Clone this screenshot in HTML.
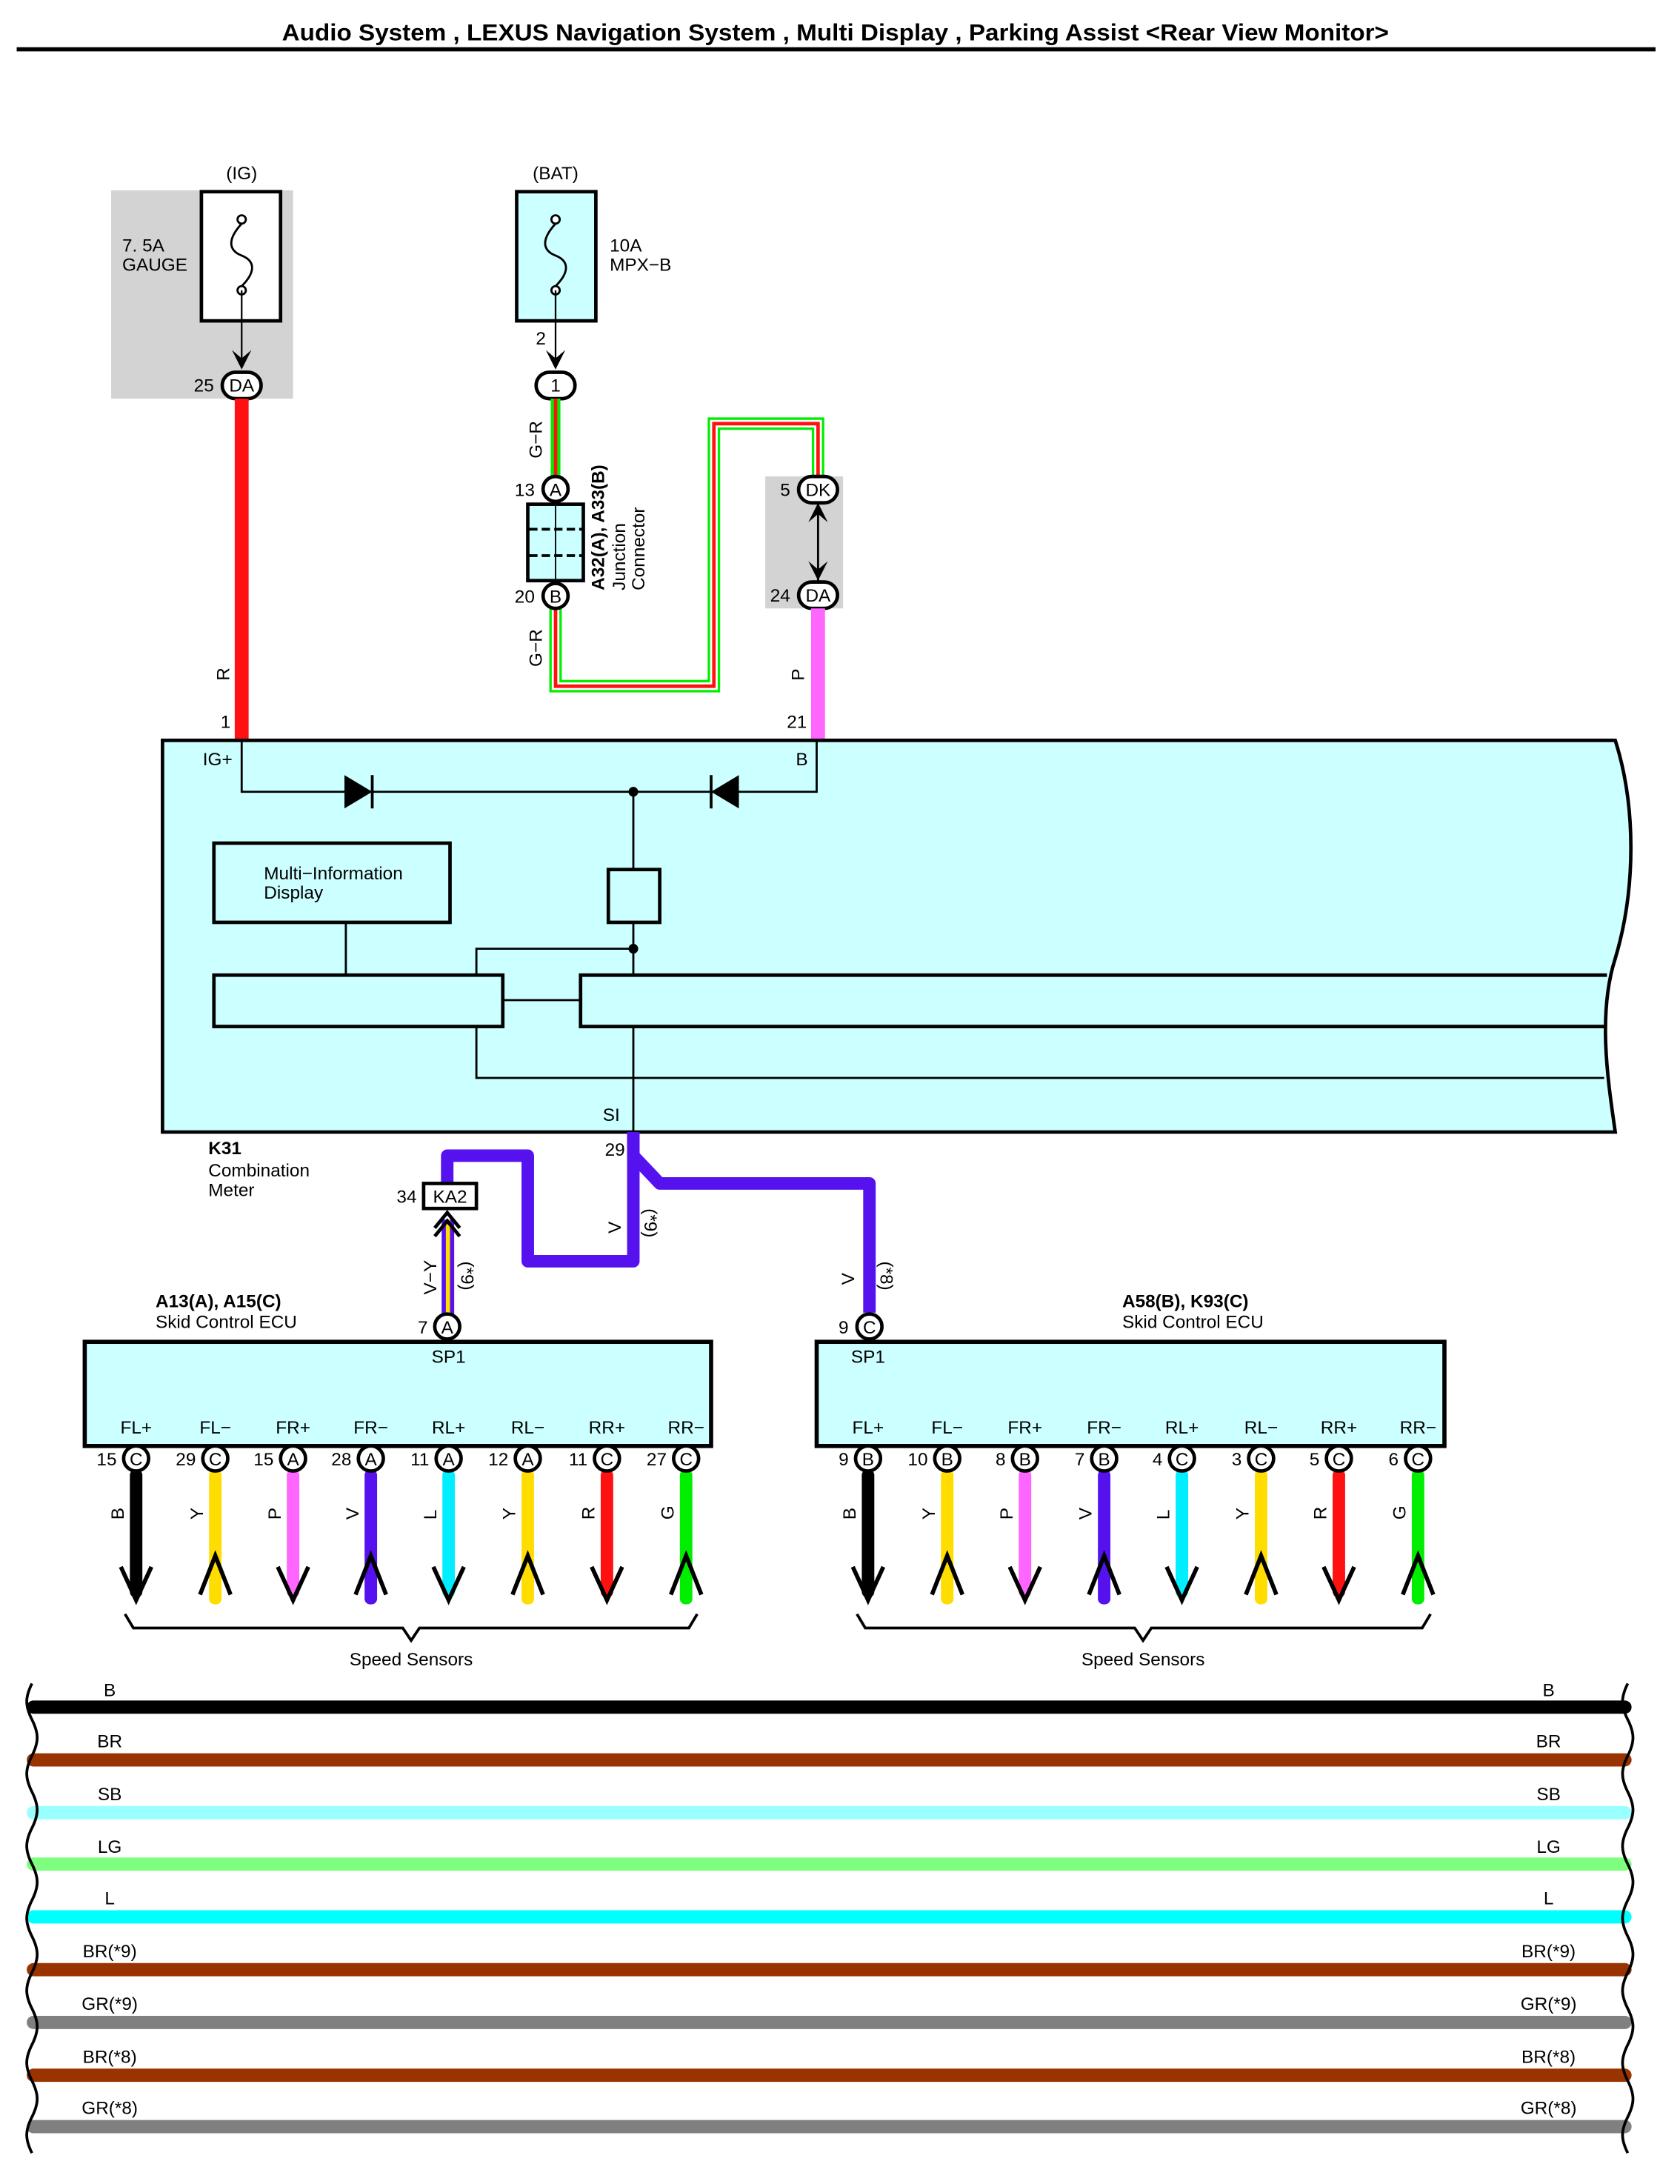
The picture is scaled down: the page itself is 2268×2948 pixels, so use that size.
<!DOCTYPE html>
<html><head><meta charset="utf-8"><style>
html,body{margin:0;padding:0;background:#fff}
svg{display:block}
text{font-family:"Liberation Sans",sans-serif;font-size:13px;fill:#000}
</style></head><body>
<svg width="2268" height="2948" viewBox="0 0 1209.6 1572.3" xmlns="http://www.w3.org/2000/svg">
<rect width="1209.6" height="1572.3" fill="#fff"/>
<text x="203" y="29" textLength="797" lengthAdjust="spacingAndGlyphs" style="font-size:17px;font-weight:bold">Audio System , LEXUS Navigation System , Multi Display , Parking Assist &lt;Rear View Monitor&gt;</text>
<rect x="12" y="34" width="1180" height="3" fill="#000"/>

<rect x="80" y="137" width="131" height="150" fill="#d3d3d3"/>
<rect x="145" y="138" width="57" height="93" fill="#fff" stroke="#000" stroke-width="2.5"/>
<text x="174" y="129" text-anchor="middle">(IG)</text>
<text x="88" y="181">7. 5A</text><text x="88" y="195">GAUGE</text>
<circle cx="174" cy="158" r="3" fill="#fff" stroke="#000" stroke-width="1.5"/>
<circle cx="174" cy="209" r="3" fill="#fff" stroke="#000" stroke-width="1.5"/>
<path d="M174 161 C164 172,164 180,174 184 C184 188,184 196,174 206" fill="none" stroke="#000" stroke-width="1.5"/>
<line x1="174" y1="209" x2="174" y2="262" stroke="#000" stroke-width="1.2"/>
<path d="M167 252 L174 266 L181 252 L174 258 Z" fill="#000"/>
<rect x="160" y="268" width="28" height="19" rx="9.5" fill="#fff" stroke="#000" stroke-width="2.5"/>
<text x="174" y="282" text-anchor="middle">DA</text>
<text x="154" y="282" text-anchor="end">25</text>
<rect x="169" y="287" width="10" height="246" fill="#ff1111"/>
<text x="0" y="0" transform="translate(165,490) rotate(-90)">R</text>
<text x="166" y="524" text-anchor="end">1</text>

<rect x="372" y="138" width="57" height="93" fill="#ccffff" stroke="#000" stroke-width="2.5"/>
<text x="400" y="129" text-anchor="middle">(BAT)</text>
<text x="439" y="181">10A</text><text x="439" y="195">MPX−B</text>
<circle cx="400" cy="158" r="3" fill="#fff" stroke="#000" stroke-width="1.5"/>
<circle cx="400" cy="209" r="3" fill="#fff" stroke="#000" stroke-width="1.5"/>
<path d="M400 161 C390 172,390 180,400 184 C410 188,410 196,400 206" fill="none" stroke="#000" stroke-width="1.5"/>
<line x1="400" y1="209" x2="400" y2="262" stroke="#000" stroke-width="1.2"/>
<path d="M393 252 L400 266 L407 252 L400 258 Z" fill="#000"/>
<text x="393" y="248" text-anchor="end">2</text>
<rect x="386" y="268" width="28" height="19" rx="9.5" fill="#fff" stroke="#000" stroke-width="2.5"/>
<text x="400" y="282" text-anchor="middle">1</text>

<g fill="none" stroke-linejoin="miter">
<path d="M400 287 L400 343" stroke="#00ee00" stroke-width="7"/>
<path d="M400 287 L400 343" stroke="#ff1111" stroke-width="2.5"/>
<path d="M400 438 L400 494 L514 494 L514 305 L589 305 L589 343" stroke="#00ee00" stroke-width="9"/>
<path d="M400 438 L400 494 L514 494 L514 305 L589 305 L589 343" stroke="#fff" stroke-width="5.5"/>
<path d="M400 438 L400 494 L514 494 L514 305 L589 305 L589 343" stroke="#ff1111" stroke-width="2.5"/>
</g>
<text transform="translate(390,330) rotate(-90)">G−R</text>
<text transform="translate(390,480) rotate(-90)">G−R</text>
<circle cx="400" cy="352" r="9" fill="#fff" stroke="#000" stroke-width="2.5"/>
<text x="400" y="357" text-anchor="middle">A</text><text x="385" y="357" text-anchor="end">13</text>
<rect x="380" y="363" width="40" height="55" fill="#ccffff" stroke="#000" stroke-width="2.5"/>
<line x1="400" y1="363" x2="400" y2="418" stroke="#000" stroke-width="1"/>
<line x1="381" y1="381" x2="419" y2="381" stroke="#000" stroke-width="2" stroke-dasharray="6,3"/>
<line x1="381" y1="400" x2="419" y2="400" stroke="#000" stroke-width="2" stroke-dasharray="6,3"/>
<circle cx="400" cy="429" r="9" fill="#fff" stroke="#000" stroke-width="2.5"/>
<text x="400" y="434" text-anchor="middle">B</text><text x="385" y="434" text-anchor="end">20</text>
<text transform="translate(435,425) rotate(-90)" style="font-weight:bold">A32(A), A33(B)</text>
<text transform="translate(450,425) rotate(-90)">Junction</text>
<text transform="translate(464,425) rotate(-90)">Connector</text>

<rect x="551" y="343" width="56" height="95" fill="#d3d3d3"/>
<line x1="589" y1="362" x2="589" y2="418" stroke="#000" stroke-width="1.5"/>
<path d="M582 376 L589 362 L596 376 L589 370Z M582 404 L589 418 L596 404 L589 410Z" fill="#000"/>
<rect x="575" y="343" width="28" height="19" rx="9.5" fill="#fff" stroke="#000" stroke-width="2.5"/>
<text x="589" y="357" text-anchor="middle">DK</text><text x="569" y="357" text-anchor="end">5</text>
<rect x="575" y="419" width="28" height="19" rx="9.5" fill="#fff" stroke="#000" stroke-width="2.5"/>
<text x="589" y="433" text-anchor="middle">DA</text><text x="569" y="433" text-anchor="end">24</text>
<rect x="584" y="438" width="10" height="95" fill="#ff66ff"/>
<text transform="translate(579,490) rotate(-90)">P</text>
<text x="581" y="524" text-anchor="end">21</text>

<path d="M117 533 L1163 533 C1178 580,1178 640,1163 690 C1150 730,1158 780,1163 815 L117 815 Z" fill="#ccffff" stroke="#000" stroke-width="2.5"/>
<text x="146" y="551">IG+</text><text x="573" y="551">B</text>
<g fill="none" stroke="#000" stroke-width="1.5">
<path d="M174 533 L174 570 L588 570 L588 533"/>
<path d="M456 570 L456 626 M456 664 L456 702 M343 702 L343 683 L456 683 M249 664 L249 702 M362 720 L418 720 M456 739 L456 815 M343 739 L343 776 L1155 776"/>
</g>
<path d="M248 558 L268 570 L248 582 Z" fill="#000"/><line x1="268" y1="558" x2="268" y2="582" stroke="#000" stroke-width="2"/>
<path d="M532 558 L512 570 L532 582 Z" fill="#000"/><line x1="512" y1="558" x2="512" y2="582" stroke="#000" stroke-width="2"/>
<circle cx="456" cy="570" r="3.5" fill="#000"/><circle cx="456" cy="683" r="3.5" fill="#000"/>
<rect x="438" y="626" width="37" height="38" fill="none" stroke="#000" stroke-width="2.5"/>
<rect x="154" y="607" width="170" height="57" fill="none" stroke="#000" stroke-width="2.5"/>
<text x="190" y="633">Multi−Information</text><text x="190" y="647">Display</text>
<rect x="154" y="702" width="208" height="37" fill="none" stroke="#000" stroke-width="2.5"/>
<path d="M1157 702 L418 702 L418 739 L1155 739" fill="none" stroke="#000" stroke-width="2.5"/>
<text x="434" y="807">SI</text>
<text x="450" y="832" text-anchor="end">29</text>
<text x="150" y="831" style="font-weight:bold">K31</text>
<text x="150" y="847">Combination</text><text x="150" y="861">Meter</text>

<path d="M456 815 L456 908 L380 908 L380 832 L322 832 L322 852" fill="none" stroke="#5511ee" stroke-width="9" stroke-linejoin="round"/>
<path d="M456 815 L456 832 L475 852 L626 852 L626 945" fill="none" stroke="#5511ee" stroke-width="9" stroke-linejoin="round"/>
<text transform="translate(447,888) rotate(-90)">V</text>
<text transform="translate(464,870) rotate(90)">(*9)</text>
<text transform="translate(615,925) rotate(-90)">V</text>
<text transform="translate(634,908) rotate(90)">(*8)</text>
<rect x="305" y="852" width="38" height="18" fill="#fff" stroke="#000" stroke-width="2.5"/>
<text x="324" y="866" text-anchor="middle">KA2</text><text x="300" y="866" text-anchor="end">34</text>
<rect x="318" y="878" width="9" height="68" fill="#5511ee"/>
<rect x="321" y="878" width="3" height="68" fill="#ffdd00"/>
<polyline points="313,890 322,879 331,890" fill="none" stroke="#000" stroke-width="2.5"/>
<polyline points="313,884 322,873 331,884" fill="none" stroke="#000" stroke-width="2.5"/>
<text transform="translate(314,932) rotate(-90)">V−Y</text>
<text transform="translate(332,908) rotate(90)">(*9)</text>
<circle cx="322" cy="955" r="9" fill="#fff" stroke="#000" stroke-width="2.5"/>
<text x="322" y="960" text-anchor="middle">A</text><text x="308" y="960" text-anchor="end">7</text>
<circle cx="626" cy="955" r="9" fill="#fff" stroke="#000" stroke-width="2.5"/>
<text x="626" y="960" text-anchor="middle">C</text><text x="611" y="960" text-anchor="end">9</text>

<text x="112" y="941" style="font-weight:bold">A13(A), A15(C)</text><text x="112" y="956">Skid Control ECU</text>
<rect x="61" y="966" width="451" height="75" fill="#ccffff" stroke="#000" stroke-width="3"/>
<text x="323" y="981" text-anchor="middle">SP1</text>
<text x="808" y="941" style="font-weight:bold">A58(B), K93(C)</text><text x="808" y="956">Skid Control ECU</text>
<rect x="588" y="966" width="452" height="75" fill="#ccffff" stroke="#000" stroke-width="3"/>
<text x="625" y="981" text-anchor="middle">SP1</text>

<g>
<g transform="translate(98,0)"><text x="0" y="1032" text-anchor="middle">FL+</text><rect x="-4.5" y="1058" width="9" height="92" rx="4" fill="#000"/><polyline points="-11,1128 0,1152 11,1128" fill="none" stroke="#000" stroke-width="3"/><circle cy="1050" r="9" fill="#fff" stroke="#000" stroke-width="2.5"/><text y="1055" text-anchor="middle">C</text><text x="-14" y="1055" text-anchor="end">15</text><text transform="translate(-9,1094) rotate(-90)">B</text></g>
<g transform="translate(155,0)"><text x="0" y="1032" text-anchor="middle">FL−</text><rect x="-4.5" y="1058" width="9" height="97" rx="4" fill="#ffdd00"/><polyline points="-11,1148 0,1120 11,1148" fill="none" stroke="#000" stroke-width="3"/><circle cy="1050" r="9" fill="#fff" stroke="#000" stroke-width="2.5"/><text y="1055" text-anchor="middle">C</text><text x="-14" y="1055" text-anchor="end">29</text><text transform="translate(-9,1094) rotate(-90)">Y</text></g>
<g transform="translate(211,0)"><text x="0" y="1032" text-anchor="middle">FR+</text><rect x="-4.5" y="1058" width="9" height="92" rx="4" fill="#ff66ff"/><polyline points="-11,1128 0,1152 11,1128" fill="none" stroke="#000" stroke-width="3"/><circle cy="1050" r="9" fill="#fff" stroke="#000" stroke-width="2.5"/><text y="1055" text-anchor="middle">A</text><text x="-14" y="1055" text-anchor="end">15</text><text transform="translate(-9,1094) rotate(-90)">P</text></g>
<g transform="translate(267,0)"><text x="0" y="1032" text-anchor="middle">FR−</text><rect x="-4.5" y="1058" width="9" height="97" rx="4" fill="#5511ee"/><polyline points="-11,1148 0,1120 11,1148" fill="none" stroke="#000" stroke-width="3"/><circle cy="1050" r="9" fill="#fff" stroke="#000" stroke-width="2.5"/><text y="1055" text-anchor="middle">A</text><text x="-14" y="1055" text-anchor="end">28</text><text transform="translate(-9,1094) rotate(-90)">V</text></g>
<g transform="translate(323,0)"><text x="0" y="1032" text-anchor="middle">RL+</text><rect x="-4.5" y="1058" width="9" height="92" rx="4" fill="#00eeff"/><polyline points="-11,1128 0,1152 11,1128" fill="none" stroke="#000" stroke-width="3"/><circle cy="1050" r="9" fill="#fff" stroke="#000" stroke-width="2.5"/><text y="1055" text-anchor="middle">A</text><text x="-14" y="1055" text-anchor="end">11</text><text transform="translate(-9,1094) rotate(-90)">L</text></g>
<g transform="translate(380,0)"><text x="0" y="1032" text-anchor="middle">RL−</text><rect x="-4.5" y="1058" width="9" height="97" rx="4" fill="#ffdd00"/><polyline points="-11,1148 0,1120 11,1148" fill="none" stroke="#000" stroke-width="3"/><circle cy="1050" r="9" fill="#fff" stroke="#000" stroke-width="2.5"/><text y="1055" text-anchor="middle">A</text><text x="-14" y="1055" text-anchor="end">12</text><text transform="translate(-9,1094) rotate(-90)">Y</text></g>
<g transform="translate(437,0)"><text x="0" y="1032" text-anchor="middle">RR+</text><rect x="-4.5" y="1058" width="9" height="92" rx="4" fill="#ff1111"/><polyline points="-11,1128 0,1152 11,1128" fill="none" stroke="#000" stroke-width="3"/><circle cy="1050" r="9" fill="#fff" stroke="#000" stroke-width="2.5"/><text y="1055" text-anchor="middle">C</text><text x="-14" y="1055" text-anchor="end">11</text><text transform="translate(-9,1094) rotate(-90)">R</text></g>
<g transform="translate(494,0)"><text x="0" y="1032" text-anchor="middle">RR−</text><rect x="-4.5" y="1058" width="9" height="97" rx="4" fill="#00ee00"/><polyline points="-11,1148 0,1120 11,1148" fill="none" stroke="#000" stroke-width="3"/><circle cy="1050" r="9" fill="#fff" stroke="#000" stroke-width="2.5"/><text y="1055" text-anchor="middle">C</text><text x="-14" y="1055" text-anchor="end">27</text><text transform="translate(-9,1094) rotate(-90)">G</text></g>
<g transform="translate(625,0)"><text x="0" y="1032" text-anchor="middle">FL+</text><rect x="-4.5" y="1058" width="9" height="92" rx="4" fill="#000"/><polyline points="-11,1128 0,1152 11,1128" fill="none" stroke="#000" stroke-width="3"/><circle cy="1050" r="9" fill="#fff" stroke="#000" stroke-width="2.5"/><text y="1055" text-anchor="middle">B</text><text x="-14" y="1055" text-anchor="end">9</text><text transform="translate(-9,1094) rotate(-90)">B</text></g>
<g transform="translate(682,0)"><text x="0" y="1032" text-anchor="middle">FL−</text><rect x="-4.5" y="1058" width="9" height="97" rx="4" fill="#ffdd00"/><polyline points="-11,1148 0,1120 11,1148" fill="none" stroke="#000" stroke-width="3"/><circle cy="1050" r="9" fill="#fff" stroke="#000" stroke-width="2.5"/><text y="1055" text-anchor="middle">B</text><text x="-14" y="1055" text-anchor="end">10</text><text transform="translate(-9,1094) rotate(-90)">Y</text></g>
<g transform="translate(738,0)"><text x="0" y="1032" text-anchor="middle">FR+</text><rect x="-4.5" y="1058" width="9" height="92" rx="4" fill="#ff66ff"/><polyline points="-11,1128 0,1152 11,1128" fill="none" stroke="#000" stroke-width="3"/><circle cy="1050" r="9" fill="#fff" stroke="#000" stroke-width="2.5"/><text y="1055" text-anchor="middle">B</text><text x="-14" y="1055" text-anchor="end">8</text><text transform="translate(-9,1094) rotate(-90)">P</text></g>
<g transform="translate(795,0)"><text x="0" y="1032" text-anchor="middle">FR−</text><rect x="-4.5" y="1058" width="9" height="97" rx="4" fill="#5511ee"/><polyline points="-11,1148 0,1120 11,1148" fill="none" stroke="#000" stroke-width="3"/><circle cy="1050" r="9" fill="#fff" stroke="#000" stroke-width="2.5"/><text y="1055" text-anchor="middle">B</text><text x="-14" y="1055" text-anchor="end">7</text><text transform="translate(-9,1094) rotate(-90)">V</text></g>
<g transform="translate(851,0)"><text x="0" y="1032" text-anchor="middle">RL+</text><rect x="-4.5" y="1058" width="9" height="92" rx="4" fill="#00eeff"/><polyline points="-11,1128 0,1152 11,1128" fill="none" stroke="#000" stroke-width="3"/><circle cy="1050" r="9" fill="#fff" stroke="#000" stroke-width="2.5"/><text y="1055" text-anchor="middle">C</text><text x="-14" y="1055" text-anchor="end">4</text><text transform="translate(-9,1094) rotate(-90)">L</text></g>
<g transform="translate(908,0)"><text x="0" y="1032" text-anchor="middle">RL−</text><rect x="-4.5" y="1058" width="9" height="97" rx="4" fill="#ffdd00"/><polyline points="-11,1148 0,1120 11,1148" fill="none" stroke="#000" stroke-width="3"/><circle cy="1050" r="9" fill="#fff" stroke="#000" stroke-width="2.5"/><text y="1055" text-anchor="middle">C</text><text x="-14" y="1055" text-anchor="end">3</text><text transform="translate(-9,1094) rotate(-90)">Y</text></g>
<g transform="translate(964,0)"><text x="0" y="1032" text-anchor="middle">RR+</text><rect x="-4.5" y="1058" width="9" height="92" rx="4" fill="#ff1111"/><polyline points="-11,1128 0,1152 11,1128" fill="none" stroke="#000" stroke-width="3"/><circle cy="1050" r="9" fill="#fff" stroke="#000" stroke-width="2.5"/><text y="1055" text-anchor="middle">C</text><text x="-14" y="1055" text-anchor="end">5</text><text transform="translate(-9,1094) rotate(-90)">R</text></g>
<g transform="translate(1021,0)"><text x="0" y="1032" text-anchor="middle">RR−</text><rect x="-4.5" y="1058" width="9" height="97" rx="4" fill="#00ee00"/><polyline points="-11,1148 0,1120 11,1148" fill="none" stroke="#000" stroke-width="3"/><circle cy="1050" r="9" fill="#fff" stroke="#000" stroke-width="2.5"/><text y="1055" text-anchor="middle">C</text><text x="-14" y="1055" text-anchor="end">6</text><text transform="translate(-9,1094) rotate(-90)">G</text></g>
</g>

<path d="M90 1162 L96 1172 L290 1172 L296 1181 L302 1172 L496 1172 L502 1162" fill="none" stroke="#000" stroke-width="2"/>
<text x="296" y="1199" text-anchor="middle">Speed Sensors</text>
<path d="M617 1162 L623 1172 L817 1172 L823 1181 L829 1172 L1024 1172 L1030 1162" fill="none" stroke="#000" stroke-width="2"/>
<text x="823" y="1199" text-anchor="middle">Speed Sensors</text>

<g stroke-width="9.5" stroke-linecap="round">
<line x1="24" y1="1229" x2="1170" y2="1229" stroke="#000"/>
<line x1="24" y1="1267" x2="1170" y2="1267" stroke="#993300"/>
<line x1="24" y1="1305" x2="1170" y2="1305" stroke="#99ffff"/>
<line x1="24" y1="1342" x2="1170" y2="1342" stroke="#7fff7f"/>
<line x1="24" y1="1380" x2="1170" y2="1380" stroke="#00ffff"/>
<line x1="24" y1="1418" x2="1170" y2="1418" stroke="#993300"/>
<line x1="24" y1="1456" x2="1170" y2="1456" stroke="#808080"/>
<line x1="24" y1="1494" x2="1170" y2="1494" stroke="#993300"/>
<line x1="24" y1="1531" x2="1170" y2="1531" stroke="#808080"/>
</g>
<g text-anchor="middle">
<text x="79" y="1221">B</text><text x="1115" y="1221">B</text>
<text x="79" y="1258">BR</text><text x="1115" y="1258">BR</text>
<text x="79" y="1296">SB</text><text x="1115" y="1296">SB</text>
<text x="79" y="1334">LG</text><text x="1115" y="1334">LG</text>
<text x="79" y="1371">L</text><text x="1115" y="1371">L</text>
<text x="79" y="1409">BR(*9)</text><text x="1115" y="1409">BR(*9)</text>
<text x="79" y="1447">GR(*9)</text><text x="1115" y="1447">GR(*9)</text>
<text x="79" y="1485">BR(*8)</text><text x="1115" y="1485">BR(*8)</text>
<text x="79" y="1522">GR(*8)</text><text x="1115" y="1522">GR(*8)</text>
</g>
<path d="M23 1212 c-5 10,-5 16,0 26 c5 10,5 16,0 26 c-5 10,-5 16,0 26 c5 10,5 16,0 26 c-5 10,-5 16,0 26 c5 10,5 16,0 26 c-5 10,-5 16,0 26 c5 10,5 16,0 26 c-5 10,-5 16,0 26 c5 10,5 16,0 26 c-5 10,-5 16,0 26 c5 10,5 16,0 26 c-5 10,-5 16,0 26" fill="none" stroke="#000" stroke-width="2"/>
<path d="M1172 1212 c-5 10,-5 16,0 26 c5 10,5 16,0 26 c-5 10,-5 16,0 26 c5 10,5 16,0 26 c-5 10,-5 16,0 26 c5 10,5 16,0 26 c-5 10,-5 16,0 26 c5 10,5 16,0 26 c-5 10,-5 16,0 26 c5 10,5 16,0 26 c-5 10,-5 16,0 26 c5 10,5 16,0 26 c-5 10,-5 16,0 26" fill="none" stroke="#000" stroke-width="2"/>
</svg>
</body></html>
